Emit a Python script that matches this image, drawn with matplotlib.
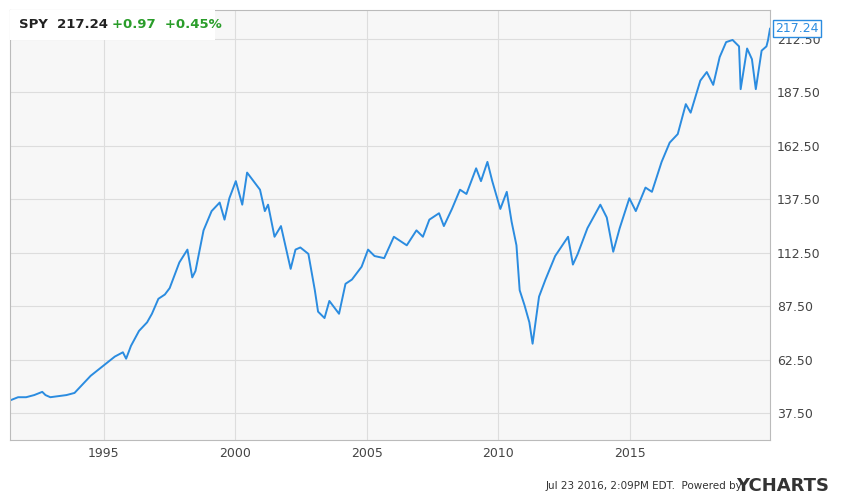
import matplotlib.pyplot as plt

# SPY price, approx readings (decimal year, price)
years = [1993.0, 1993.25, 1993.5, 1993.75, 1994.0, 1994.1, 1994.25, 1994.5, 1994.75, 1995.0,
         1995.25, 1995.5, 1995.75, 1996.0, 1996.25, 1996.5, 1996.6, 1996.75, 1997.0, 1997.25,
         1997.4, 1997.6, 1997.8, 1997.95, 1998.25, 1998.5, 1998.65, 1998.75, 1999.0, 1999.25,
         1999.5, 1999.65, 1999.8, 2000.0, 2000.2, 2000.35, 2000.6, 2000.75, 2000.9, 2001.0,
         2001.2, 2001.4, 2001.7, 2001.85, 2002.0, 2002.25, 2002.45, 2002.55, 2002.75, 2002.9,
         2003.2, 2003.4, 2003.6, 2003.9, 2004.1, 2004.3, 2004.6, 2004.9, 2005.2, 2005.3,
         2005.6, 2005.8, 2006.0, 2006.3, 2006.45, 2006.7, 2006.95, 2007.15, 2007.45, 2007.6,
         2007.8, 2007.95, 2008.2, 2008.4, 2008.55, 2008.7, 2008.8, 2008.95, 2009.1, 2009.2,
         2009.4, 2009.6, 2009.9, 2010.3, 2010.45, 2010.6, 2010.9, 2011.3, 2011.5, 2011.7,
         2011.9, 2012.2, 2012.4, 2012.7, 2012.9, 2013.2, 2013.45, 2013.7, 2013.95, 2014.1,
         2014.4, 2014.6, 2014.8, 2015.0, 2015.2, 2015.4, 2015.6, 2015.65, 2015.85, 2016.0,
         2016.12, 2016.3, 2016.45, 2016.5, 2016.56]
prices = [43.5, 45, 45, 46, 47.5, 46, 45, 45.5, 46, 47,
          51, 55, 58, 61, 64, 66, 63, 69, 76, 80,
          84, 91, 93, 96, 108, 114, 101, 104, 123, 132,
          136, 128, 138, 146, 135, 150, 145, 142, 132, 135,
          120, 125, 105, 114, 115, 112, 95, 85, 82, 90,
          84, 98, 100, 106, 114, 111, 110, 120, 117, 116,
          123, 120, 128, 131, 125, 133, 142, 140, 152, 146,
          155, 146, 133, 141, 127, 116, 95, 88, 80, 70,
          92, 100, 111, 120, 107, 112, 124, 135, 129, 113,
          124, 138, 132, 143, 141, 155, 164, 168, 182, 178,
          193, 197, 191, 204, 211, 212, 209, 189, 208, 203,
          189, 207, 209, 212, 217.24]
yticks = [37.5, 62.5, 87.5, 112.5, 137.5, 162.5, 187.5, 212.5]
xtick_labels = ['1995', '2000', '2005', '2010', '2015']
xtick_pos = [1995.91, 1999.97, 2004.07, 2008.13, 2012.22]

fig = plt.figure(figsize=(8.5, 5.01), dpi=100)
ax = fig.add_axes([10 / 850, 61 / 501, 760 / 850, 430 / 501])
ax.set_facecolor('#f7f7f7')
ax.plot(years, prices, color='#2b8ce0', lw=1.4)
ax.set_xlim(1993.0, 2016.56)
ax.set_ylim(25, 226)
ax.yaxis.tick_right()
ax.set_yticks(yticks)
ax.set_yticklabels(['%.2f' % v for v in yticks])
ax.set_xticks(xtick_pos)
ax.set_xticklabels(xtick_labels)
ax.tick_params(length=0, labelsize=9, colors='#444444', pad=5)
ax.grid(color='#dddddd', lw=0.8)
for s in ax.spines.values():
    s.set_color('#bbbbbb')

ax.add_patch(plt.Rectangle((0, 0.93), 0.27, 0.07, transform=ax.transAxes,
                           facecolor='white', edgecolor='none', zorder=3))
ax.text(0.012, 0.966, 'SPY  217.24', transform=ax.transAxes, fontsize=9.5, fontweight='bold',
        color='#222222', va='center', zorder=4)
ax.text(0.134, 0.966, '+0.97  +0.45%', transform=ax.transAxes, fontsize=9.5, fontweight='bold',
        color='#2a9d2a', va='center', zorder=4)
ax.annotate('217.24', xy=(1.0, prices[-1]), xycoords=('axes fraction', 'data'),
            xytext=(4, 0), textcoords='offset points', fontsize=9, color='#2b8ce0', va='center',
            bbox=dict(facecolor='white', edgecolor='#2b8ce0', pad=1.5))
fig.text(0.642, 0.03, 'Jul 23 2016, 2:09PM EDT.  Powered by', fontsize=7.5, color='#333333', va='center')
fig.text(0.866, 0.03, 'YCHARTS', fontsize=13, fontweight='bold', color='#333333', va='center')
fig.savefig('out.png')
